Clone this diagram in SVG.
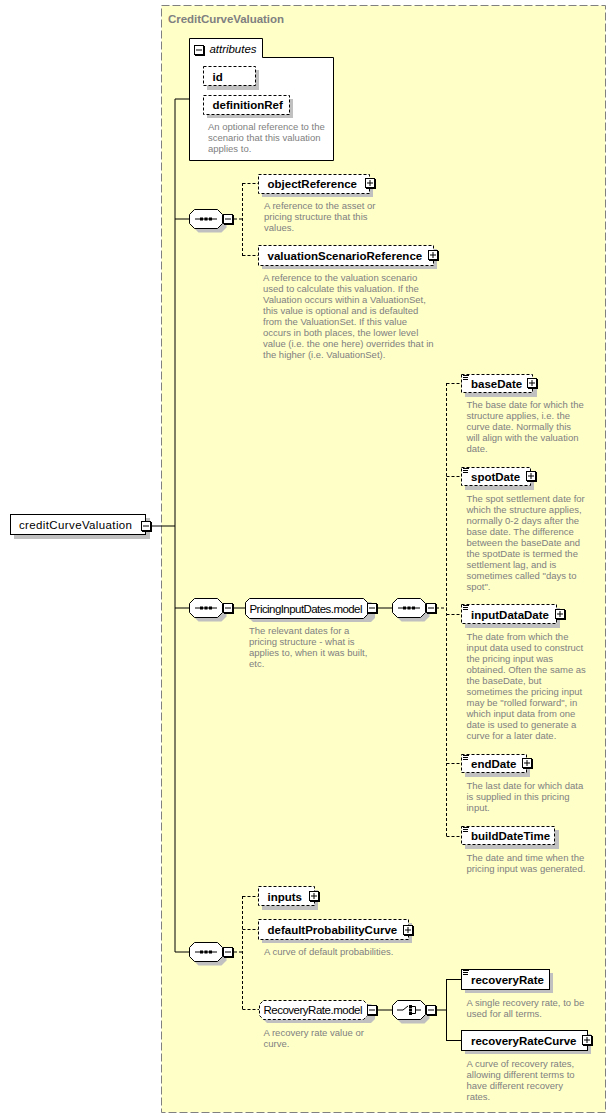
<svg xmlns="http://www.w3.org/2000/svg" xmlns:xlink="http://www.w3.org/1999/xlink" width="616" height="1118" viewBox="0 0 616 1118">
<style>
.bg{fill:#FFFFC8;stroke:#808080;stroke-dasharray:8,3}
.box{fill:#fff;stroke:#000}
.opt{fill:#fff;stroke:#000;stroke-dasharray:3,2}
.sh{fill:#c0c0c0}
.nm{font-family:"Liberation Sans",Arial,sans-serif;font-size:11.5px;font-weight:bold;fill:#000}
.rg{font-family:"Liberation Sans",Arial,sans-serif;font-size:11.5px;fill:#000}
.ds{font-family:"Liberation Sans",Arial,sans-serif;font-size:9.5px;fill:#808080}
.tt{font-family:"Liberation Sans",Arial,sans-serif;font-size:11.5px;font-weight:bold;fill:#808080}
.c{stroke:#000;fill:none}
.d{stroke:#000;fill:none;stroke-dasharray:3,2}
</style>
<defs>
<g id="minus"><rect x="1" y="1" width="10" height="10" fill="#000"/><rect x="0.5" y="0.5" width="9" height="9" fill="#fff" stroke="#000"/><line x1="2" y1="5" x2="8" y2="5" stroke="#000"/></g>
<g id="plus"><rect x="1" y="1" width="10" height="10" fill="#000"/><rect x="0.5" y="0.5" width="9" height="9" fill="#fff" stroke="#000"/><line x1="2" y1="5" x2="8" y2="5" stroke="#000"/><line x1="5" y1="2" x2="5" y2="8" stroke="#000"/></g>
<g id="oct"><polygon points="9.5,4.5 32.5,4.5 37.5,9.5 37.5,18.5 32.5,23.5 9.5,23.5 4.5,18.5 4.5,9.5" fill="#c0c0c0"/><polygon points="5.5,0.5 28.5,0.5 33.5,5.5 33.5,14.5 28.5,19.5 5.5,19.5 0.5,14.5 0.5,5.5" fill="#fff" stroke="#000"/></g>
<g id="seq"><use xlink:href="#oct"/><line x1="6" y1="10" x2="28" y2="10" stroke="#000"/><rect x="11" y="8.5" width="3" height="3"/><rect x="15.5" y="8.5" width="3" height="3"/><rect x="20" y="8.5" width="3" height="3"/></g>
<g id="choice"><use xlink:href="#oct"/><path d="M5,10 H11 L16,6" stroke="#000" fill="none"/><rect x="17" y="5" width="3" height="3"/><rect x="17" y="8.5" width="3" height="3"/><rect x="17" y="12" width="3" height="3"/><path d="M20,6.5 H23.5 V13.5 H20 M23.5,10 H29" stroke="#000" fill="none"/></g>
<g id="ico" stroke="#000"><line x1="0" y1="0.5" x2="6" y2="0.5"/><line x1="0" y1="2.5" x2="5" y2="2.5"/><line x1="0" y1="4.5" x2="5" y2="4.5"/></g>
</defs>

<rect class="bg" x="161.5" y="5.5" width="444" height="1107"/>
<text class="tt" x="168" y="23" textLength="116">CreditCurveValuation</text>

<g id="connectors">
<path class="c" d="M151,526 H175 M175,99 V952 M175,99 H189.5 M175,219 H189 M175,608 H189 M175,952 H189"/>
<path class="d" d="M234,219 H243 M242.5,183 V256 M242.5,183.5 H259 M242.5,255.5 H259"/>
<path class="c" d="M233,608 H245 M377,608 H392"/>
<path class="d" d="M436,608 H447 M446.5,383 V836 M446.5,383.5 H462 M446.5,476.5 H462 M446.5,614.5 H462 M446.5,763.5 H462 M446.5,836.5 H462"/>
<path class="d" d="M234,952 H243 M242.5,896 V1010 M242.5,896.5 H259 M242.5,929.5 H259 M242.5,1009.5 H259"/>
<path class="c" d="M377,1010 H392 M436,1010 H447 M446.5,979 V1041 M446.5,979.5 H462 M446.5,1040.5 H462"/>
</g>

<g id="creditCurveValuation">
<rect class="sh" x="14" y="518" width="136" height="21"/>
<rect class="box" x="10.5" y="514.5" width="135" height="20"/>
<text class="rg" x="19" y="528.5" textLength="113">creditCurveValuation</text>
<use xlink:href="#minus" x="141" y="521"/>
</g>

<g id="attributes">
<path class="box" d="M189.5,38.5 H262.5 V57.5 H333.5 V160.5 H189.5 Z"/>
<use xlink:href="#minus" x="194" y="45"/>
<text class="rg" x="209.5" y="53" font-style="italic" font-size="11px" textLength="47">attributes</text>
</g>
<g id="id">
<rect class="sh" x="207" y="70" width="52" height="20"/>
<rect class="opt" x="203.5" y="66.5" width="52" height="19"/>
<text class="nm" x="212.5" y="80.5">id</text>
</g>
<g id="definitionRef">
<rect class="sh" x="207" y="99" width="86" height="19"/>
<rect class="opt" x="203.5" y="95.5" width="86" height="19"/>
<text class="nm" x="212.5" y="109">definitionRef</text>
<text class="ds" x="208" y="130">An optional reference to the</text>
<text class="ds" x="208" y="141">scenario that this valuation</text>
<text class="ds" x="208" y="152">applies to.</text>
</g>

<g id="seq1"><use xlink:href="#seq" x="189" y="209"/><use xlink:href="#minus" x="223" y="214"/></g>

<g id="objectReference">
<rect class="sh" x="262" y="178" width="111" height="19"/>
<rect class="opt" x="258.5" y="174.5" width="111" height="19"/>
<text class="nm" x="267.5" y="188">objectReference</text>
<use xlink:href="#plus" x="365" y="178"/>
<text class="ds" x="264" y="209">A reference to the asset or</text>
<text class="ds" x="264" y="220">pricing structure that this</text>
<text class="ds" x="264" y="231">values.</text>
</g>
<g id="valuationScenarioReference">
<rect class="sh" x="262" y="249" width="175" height="20"/>
<rect class="opt" x="258.5" y="245.5" width="175" height="20"/>
<text class="nm" x="267.5" y="260">valuationScenarioReference</text>
<use xlink:href="#plus" x="428" y="250"/>
<text class="ds" x="263" y="281">A reference to the valuation scenario</text>
<text class="ds" x="263" y="292">used to calculate this valuation. If the</text>
<text class="ds" x="263" y="303">Valuation occurs within a ValuationSet,</text>
<text class="ds" x="263" y="314">this value is optional and is defaulted</text>
<text class="ds" x="263" y="325">from the ValuationSet. If this value</text>
<text class="ds" x="263" y="336">occurs in both places, the lower level</text>
<text class="ds" x="263" y="347">value (i.e. the one here) overrides that in</text>
<text class="ds" x="263" y="358">the higher (i.e. ValuationSet).</text>
</g>

<g id="seq2"><use xlink:href="#seq" x="189" y="598"/><use xlink:href="#minus" x="223" y="603"/></g>
<g id="PricingInputDates.model">
<polygon class="sh" points="253,602 371,602 375,606 375,618 371,622 253,622 249,618 249,606"/>
<polygon class="box" points="249.5,598.5 363.5,598.5 367.5,602.5 367.5,614.5 363.5,618.5 249.5,618.5 245.5,614.5 245.5,602.5"/>
<text class="rg" x="249.5" y="612.5" textLength="113">PricingInputDates.model</text>
<use xlink:href="#minus" x="367" y="603"/>
<text class="ds" x="249" y="634">The relevant dates for a</text>
<text class="ds" x="249" y="645">pricing structure - what is</text>
<text class="ds" x="249" y="656">applies to, when it was built,</text>
<text class="ds" x="249" y="667">etc.</text>
</g>
<g id="seq3"><use xlink:href="#seq" x="392" y="598"/><use xlink:href="#minus" x="426" y="603"/></g>

<g id="baseDate">
<rect class="sh" x="465" y="378" width="72" height="19"/>
<rect class="opt" x="461.5" y="374.5" width="71" height="18"/>
<use xlink:href="#ico" x="463" y="375"/>
<text class="nm" x="471" y="388">baseDate</text>
<use xlink:href="#plus" x="527" y="378"/>
<text class="ds" x="466.5" y="408">The base date for which the</text>
<text class="ds" x="466.5" y="419">structure applies, i.e. the</text>
<text class="ds" x="466.5" y="430">curve date. Normally this</text>
<text class="ds" x="466.5" y="441">will align with the valuation</text>
<text class="ds" x="466.5" y="452">date.</text>
</g>
<g id="spotDate">
<rect class="sh" x="465" y="471" width="69" height="19"/>
<rect class="opt" x="461.5" y="467.5" width="69" height="18"/>
<use xlink:href="#ico" x="463" y="468"/>
<text class="nm" x="471" y="481">spotDate</text>
<use xlink:href="#plus" x="526" y="471"/>
<text class="ds" x="466.5" y="502">The spot settlement date for</text>
<text class="ds" x="466.5" y="513">which the structure applies,</text>
<text class="ds" x="466.5" y="524">normally 0-2 days after the</text>
<text class="ds" x="466.5" y="535">base date. The difference</text>
<text class="ds" x="466.5" y="546">between the baseDate and</text>
<text class="ds" x="466.5" y="557">the spotDate is termed the</text>
<text class="ds" x="466.5" y="568">settlement lag, and is</text>
<text class="ds" x="466.5" y="579">sometimes called "days to</text>
<text class="ds" x="466.5" y="590">spot".</text>
</g>
<g id="inputDataDate">
<rect class="sh" x="465" y="608" width="95" height="20"/>
<rect class="opt" x="461.5" y="604.5" width="95" height="19"/>
<use xlink:href="#ico" x="463" y="605"/>
<text class="nm" x="471" y="618.5">inputDataDate</text>
<use xlink:href="#plus" x="555" y="609"/>
<text class="ds" x="466.5" y="640">The date from which the</text>
<text class="ds" x="466.5" y="651">input data used to construct</text>
<text class="ds" x="466.5" y="662">the pricing input was</text>
<text class="ds" x="466.5" y="673">obtained. Often the same as</text>
<text class="ds" x="466.5" y="684">the baseDate, but</text>
<text class="ds" x="466.5" y="695">sometimes the pricing input</text>
<text class="ds" x="466.5" y="706">may be "rolled forward", in</text>
<text class="ds" x="466.5" y="717">which input data from one</text>
<text class="ds" x="466.5" y="728">date is used to generate a</text>
<text class="ds" x="466.5" y="739">curve for a later date.</text>
</g>
<g id="endDate">
<rect class="sh" x="465" y="758" width="65" height="19"/>
<rect class="opt" x="461.5" y="754.5" width="65" height="18"/>
<use xlink:href="#ico" x="463" y="755"/>
<text class="nm" x="471" y="768">endDate</text>
<use xlink:href="#plus" x="522" y="758"/>
<text class="ds" x="466.5" y="789">The last date for which data</text>
<text class="ds" x="466.5" y="800">is supplied in this pricing</text>
<text class="ds" x="466.5" y="811">input.</text>
</g>
<g id="buildDateTime">
<rect class="sh" x="465" y="830" width="94" height="19"/>
<rect class="opt" x="461.5" y="826.5" width="93" height="18"/>
<use xlink:href="#ico" x="463" y="827"/>
<text class="nm" x="471" y="840">buildDateTime</text>
<text class="ds" x="466.5" y="861">The date and time when the</text>
<text class="ds" x="466.5" y="872">pricing input was generated.</text>
</g>

<g id="seq4"><use xlink:href="#seq" x="189" y="942"/><use xlink:href="#minus" x="223" y="947"/></g>
<g id="inputs">
<rect class="sh" x="262" y="890" width="56" height="20"/>
<rect class="opt" x="258.5" y="886.5" width="56" height="19"/>
<text class="nm" x="267.5" y="900.5">inputs</text>
<use xlink:href="#plus" x="309" y="891"/>
</g>
<g id="defaultProbabilityCurve">
<rect class="sh" x="262" y="923" width="150" height="20"/>
<rect class="opt" x="258.5" y="919.5" width="150" height="20"/>
<text class="nm" x="267.5" y="934">defaultProbabilityCurve</text>
<use xlink:href="#plus" x="403" y="925"/>
<text class="ds" x="264" y="955">A curve of default probabilities.</text>
</g>
<g id="RecoveryRate.model">
<polygon class="sh" points="267,1004 371,1004 375,1008 375,1019 371,1023 267,1023 263,1019 263,1008"/>
<polygon class="opt" points="263.5,1000.5 363.5,1000.5 367.5,1004.5 367.5,1015.5 363.5,1019.5 263.5,1019.5 259.5,1015.5 259.5,1004.5"/>
<text class="rg" x="263.5" y="1014" textLength="99">RecoveryRate.model</text>
<use xlink:href="#minus" x="367" y="1005"/>
<text class="ds" x="263.5" y="1036">A recovery rate value or</text>
<text class="ds" x="263.5" y="1047">curve.</text>
</g>
<g id="choice1"><use xlink:href="#choice" x="392" y="1000"/><use xlink:href="#minus" x="426" y="1005"/></g>
<g id="recoveryRate">
<rect class="sh" x="465" y="973" width="88" height="20"/>
<rect class="box" x="461.5" y="969.5" width="88" height="20"/>
<use xlink:href="#ico" x="463" y="970"/>
<text class="nm" x="471" y="984">recoveryRate</text>
<text class="ds" x="466.5" y="1006">A single recovery rate, to be</text>
<text class="ds" x="466.5" y="1017">used for all terms.</text>
</g>
<g id="recoveryRateCurve">
<rect class="sh" x="465" y="1034" width="126" height="20"/>
<rect class="box" x="461.5" y="1030.5" width="126" height="20"/>
<text class="nm" x="471" y="1045">recoveryRateCurve</text>
<use xlink:href="#plus" x="582" y="1035"/>
<text class="ds" x="466.5" y="1067">A curve of recovery rates,</text>
<text class="ds" x="466.5" y="1078">allowing different terms to</text>
<text class="ds" x="466.5" y="1089">have different recovery</text>
<text class="ds" x="466.5" y="1100">rates.</text>
</g>
</svg>
